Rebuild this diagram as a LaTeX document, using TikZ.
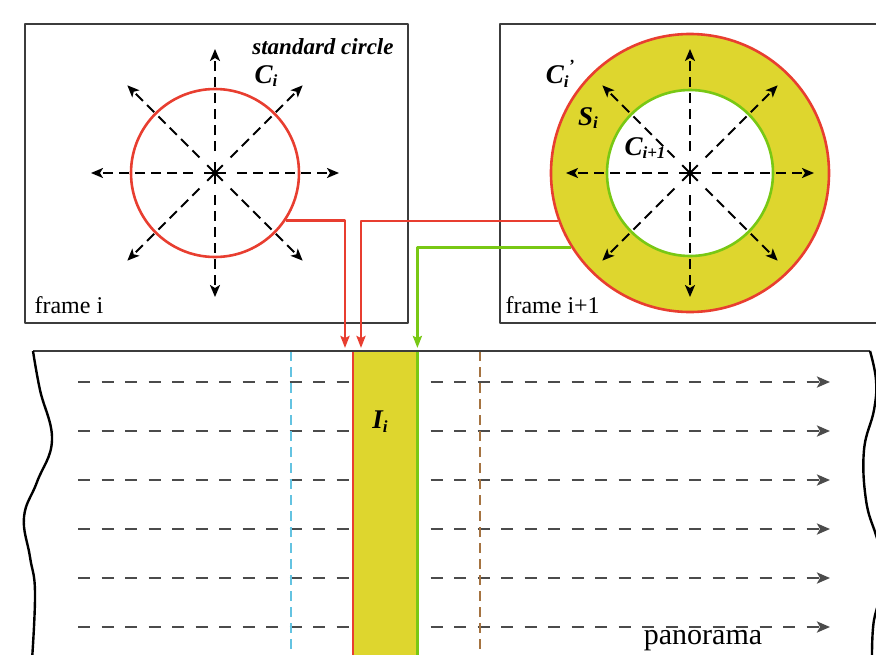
\documentclass[tikz,border=0pt]{standalone}
\usepackage{fontspec}
\setmainfont{Liberation Serif}
\usetikzlibrary{arrows.meta,positioning,calc}
\definecolor{framegray}{RGB}{60,60,60}
\definecolor{ringyellow}{RGB}{222,214,46}
\definecolor{cred}{RGB}{232,62,48}
\definecolor{cgreen}{RGB}{120,200,20}
\definecolor{cblue}{RGB}{100,195,225}
\definecolor{cbrown}{RGB}{165,115,65}
\definecolor{dashgray}{RGB}{75,75,75}
\newcommand{\lblsz}{\fontsize{27}{29}\selectfont}
\newcommand{\subsz}{\fontsize{17}{17}\selectfont}
\newcommand{\symb}[2]{{\bfseries\itshape\lblsz #1\raisebox{-0.3ex}{\subsz #2}}}

\begin{document}
\begin{tikzpicture}[x=1pt, y=-1pt, line join=round,
    framebox/.style={draw=framegray, line width=2.2pt, inner sep=0pt, anchor=north west},
    ray/.style={draw=black, line width=2pt, dash pattern=on 10pt off 6pt, -{Stealth[length=12pt,width=10pt,inset=3pt]}},
    scan/.style={draw=dashgray, line width=2.6pt, dash pattern=on 12pt off 11.5pt, -{Stealth[length=13pt,width=11pt,inset=3pt]}},
    link/.style={line width=2.5pt, shorten >=3pt, -{Stealth[length=12pt,width=9pt,inset=2pt]}},
    seam/.style={line width=2.6pt, dash pattern=on 10pt off 6pt}]
    \clip (0,0) rectangle (876,654);

    % the two frames
    \node [framebox, minimum width=383pt, minimum height=299pt] (framei) at (24,23) {};
    \node [framebox, minimum width=420pt, minimum height=299pt] (frameii) at (499,23) {};
    \node [anchor=west] at (31,305) {\fontsize{24}{26}\selectfont frame i};
    \node [anchor=west] at (502,305) {\fontsize{24}{26}\selectfont frame i+1};

    % standard circle in frame i
    \node [circle, draw=cred, line width=2.6pt, minimum size=168pt, inner sep=0pt] (ci) at (215,173) {};
    \foreach \a in {0,45,...,315} {
        \draw [ray] ($(ci.center)+(\a:22)$) -- ($(ci.center)+(\a:124)$);
        \draw [line width=2pt] (ci.center) -- +(\a:11);
    }
    \node at (323,47) {\bfseries\itshape\fontsize{23}{25}\selectfont standard circle};
    \node (lci) at (266,76) {\symb{C}{i}};

    % ring in frame i+1
    \node [circle, draw=cred, fill=ringyellow, line width=2.6pt, minimum size=278pt, inner sep=0pt] (cout) at (690,173) {};
    \node [circle, draw=cgreen, fill=white, line width=2.6pt, minimum size=166pt, inner sep=0pt] (cin) at (cout.center) {};
    \foreach \a in {0,45,...,315} {
        \draw [ray] ($(cin.center)+(\a:22)$) -- ($(cin.center)+(\a:124)$);
        \draw [line width=2pt] (cin.center) -- +(\a:11);
    }
    \node (lcp) at (560,74) {{\bfseries\itshape\lblsz C\raisebox{-0.3ex}{\subsz i}\raisebox{1.0ex}{\subsz '}}};
    \node (lsi) at (588,118) {\symb{S}{i}};
    \node (lcn) at (645,148) {\symb{C}{i+1}};

    % panorama
    \foreach \y in {382,431,480,529,578,627}
        \draw [scan] (78,\y) -- (830,\y);
    \draw [seam, cblue] (291,351) -- (291,660);
    \draw [seam, cbrown] (480,351) -- (480,660);
    \node [fill=ringyellow, inner sep=0pt, minimum width=64pt, minimum height=310pt, anchor=north west] (strip) at (353,351) {};
    \draw [cred, line width=2.5pt] (strip.north west) -- (strip.south west);
    \draw [cgreen, line width=2.5pt] (strip.north east) -- (strip.south east);
    \node (lii) at (380,422) {\symb{I}{i}};
    \draw [framegray, line width=2.4pt] (33,351) -- (870,351);
    \draw [black, line width=2.4pt] plot [smooth, tension=0.7] coordinates {(33,351) (40,390) (52,440) (37,482) (24,517) (30,557) (35,592) (32,660)};
    \draw [black, line width=2.4pt] plot [smooth, tension=0.7] coordinates {(870,351) (876,380) (874,410) (864,450) (866,500) (876,535) (888,570)};
    \draw [black, line width=2.4pt] plot [smooth, tension=0.7] coordinates {(884,590) (874,620) (872,660)};
    \node at (703,641) {\fontsize{30}{32}\selectfont panorama};

    % connectors
    \coordinate (ina) at (345,351);
    \coordinate (inb) at (361,351);
    \draw [link, cred] (ci.-34) -| (ina);
    \draw [link, cred] (cout.200) -| (inb);
    \draw [link, cgreen] (cout.212) -| (strip.north east);
\end{tikzpicture}
\end{document}
